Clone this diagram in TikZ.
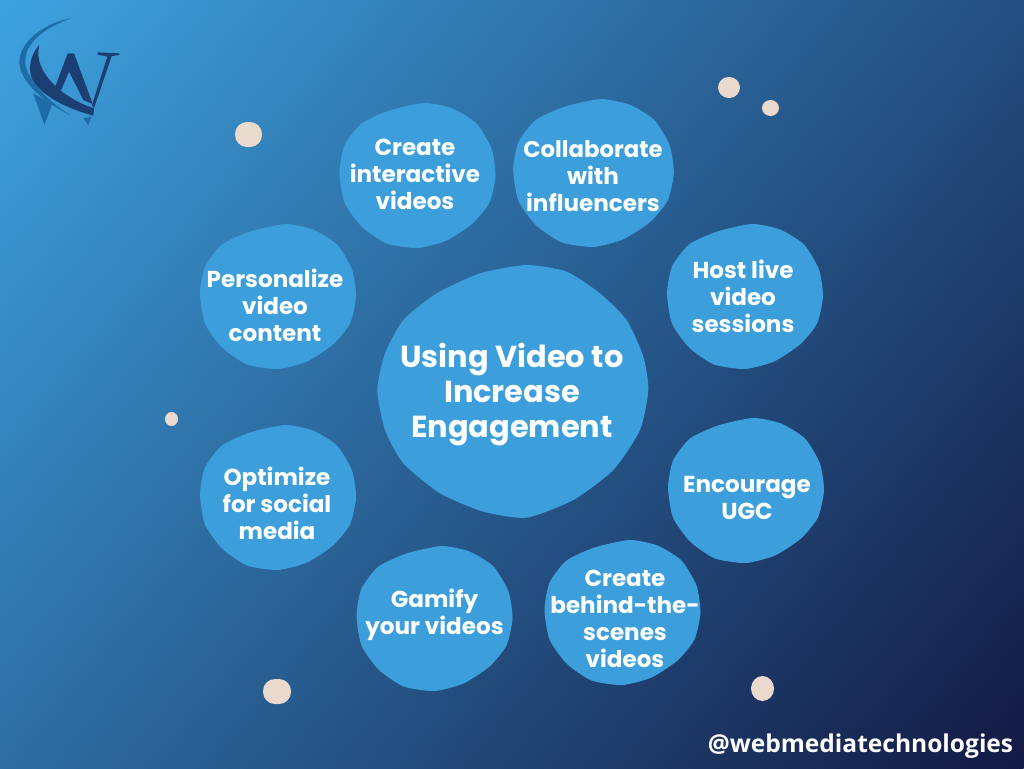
\documentclass[tikz,border=0pt]{standalone}
\usepackage{fontspec}
\setmainfont{Poppins}
\newfontfamily\handlefont{Open Sans}
\definecolor{bgA}{HTML}{3EA3E0}
\definecolor{bgB}{HTML}{295E92}
\definecolor{bgC}{HTML}{131943}
\definecolor{blobfill}{HTML}{3C9FDC}
\definecolor{dotfill}{HTML}{EAD9CD}
\definecolor{logomid}{HTML}{1E6CA6}
\definecolor{logodark}{HTML}{1B3F72}
\tikzset{
  smalltext/.style={text=white,align=center,font=\bfseries\fontsize{17.3pt}{20.25pt}\selectfont,inner sep=0pt},
  maintext/.style={text=white,align=center,font=\bfseries\fontsize{22.8pt}{25.9pt}\selectfont,inner sep=0pt},
  dotshape/.style={fill=dotfill,rounded corners=#1},
  blobshape/.style={fill=blobfill}
}
% #1 scale keys, #2 #3 blob centre, #4 #5 text centre, #6 name, #7 text
\newcommand{\smallblob}[7]{%
  \fill[blobshape,shift={(#2,#3)},#1] plot[smooth cycle,tension=0.38] coordinates {(7,-72.5)(35,-67)(59,-52)(74,-27)(78,0)(72,27)(55,48)(29,65)(0,72.5)(-31,68)(-56,51)(-73,27)(-78,-3)(-73,-30)(-56,-52)(-28,-65)};
  \node[smalltext] (#6) at (#4,#5) {#7};
}
\begin{document}
\begin{tikzpicture}[x=0.75pt,y=-0.75pt]
\useasboundingbox (0,0) rectangle (1024,768);
\begin{scope}
\clip (0,0) rectangle (1024,768);
\begin{scope}[transform canvas={rotate around={-40:(512,384)}}]
\shade[left color=bgA,middle color=bgB,right color=bgC]
  (-127,-516) rectangle (1151,1284);
\end{scope}
\end{scope}
% logo
\begin{scope}[x=0.25pt,y=-0.25pt]
\fill[logomid] (100,280)--(133,375)--(157,312)--cycle;
\fill[logomid] (250,355)--(275,350)--(265,375)--cycle;
\fill[logomid] (215,54) .. controls (130,70) and (60,125) .. (58,185) .. controls (58,240) and (120,300) .. (212,346) .. controls (140,300) and (82,240) .. (76,190) .. controls (72,130) and (130,85) .. (215,54) -- cycle;
\fill[logodark] (118,135) .. controls (90,165) and (85,205) .. (95,235) .. controls (125,290) and (200,325) .. (280,347) -- (282,325) .. controls (200,300) and (95,220) .. (118,135) -- cycle;
\fill[logodark] (203,160)--(165,262)--(183,272)--(207,215)--(250,300)--(278,312)--(222,160)--cycle;
\fill[logodark] (293,157)--(358,160)--(358,165)--(335,168)--(282,325)--(276,315)--(322,170)--(293,164)--cycle;
\end{scope}
% dots
\fill[dotshape=9pt] (235,122) rectangle (262,147);
\fill[dotshape=8pt] (718,77) rectangle (740,98);
\fill[dotfill] (770.5,108) ellipse (8.5 and 8);
\fill[dotfill] (171.5,419) ellipse (6.5 and 7);
\fill[dotshape=9pt] (263,679) rectangle (291,704);
\fill[dotfill] (762.5,688.5) ellipse (11.5 and 12.5);
% main blob
\begin{scope}[shift={(360,250)},x=0.25pt,y=-0.25pt]
\fill[blobshape] plot[smooth cycle,tension=0.38] coordinates {(500,45)(620,65)(720,130)(800,210)(850,320)(865,420)(840,540)(760,660)(640,750)(500,803)(370,785)(240,730)(130,640)(75,540)(52,420)(75,310)(130,210)(230,130)(360,70)};
\end{scope}
\node[maintext] (main) at (512,394.5) {Using Video to\\Increase\\Engagement};
% satellites
\smallblob{}{417.5}{175.5}{415}{174.5}{interactive}{Create\\interactive\\videos}
\smallblob{xscale=1.03,yscale=1.02}{593.5}{173}{593}{176.5}{influencers}{\fontsize{17.1pt}{20.25pt}\selectfont Collaborate\\with\\influencers}
\smallblob{}{745}{296.5}{743}{296.5}{live}{Host live\\video\\sessions}
\smallblob{}{746}{490.5}{747}{497.5}{ugc}{Encourage\\UGC}
\smallblob{}{622.5}{612.5}{625}{618.5}{behind}{Create\\behind-the-\\scenes\\videos}
\smallblob{}{434.5}{618.5}{434.5}{614.5}{gamify}{Gamify\\your videos}
\smallblob{}{278}{497.5}{277}{503.5}{social}{Optimize\\for social\\media}
\smallblob{}{278}{296.5}{275}{305.5}{personal}{Personalize\\video\\content}
\node[text=white,font=\handlefont\bfseries\fontsize{18.4pt}{20pt}\selectfont,inner sep=0pt] (handle) at (860.5,746) {@webmediatechnologies};
\end{tikzpicture}
\end{document}
